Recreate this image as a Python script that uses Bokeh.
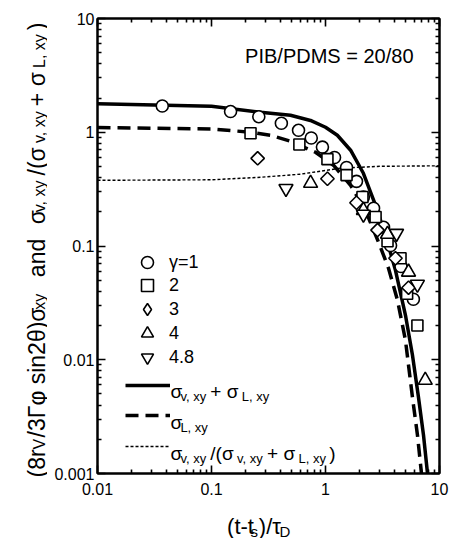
import math
import numpy as np
from bokeh.plotting import figure
from bokeh.layouts import row, column
from bokeh.models import (Range1d, LogAxis, FixedTicker, CustomJSTickFormatter,
                          Label, Legend, LegendItem, ColumnDataSource)
from bokeh.core.properties import value
from bokeh.embed import file_html
from bokeh.resources import INLINE

# ---------------- data ----------------
g1_x = [0.037, 0.147, 0.26, 0.41, 0.58, 0.75, 0.94, 1.20, 1.53, 1.87, 2.15, 2.64, 3.23, 3.72, 4.6, 5.9]
g1_y = [1.70, 1.52, 1.37, 1.20, 1.04, 0.89, 0.74, 0.60, 0.49, 0.37, 0.27, 0.215, 0.146, 0.101, 0.066, 0.034]
g2_x = [0.22, 0.59, 1.04, 1.53, 2.11, 2.75, 3.5, 4.55, 5.2, 6.4]
g2_y = [0.98, 0.78, 0.58, 0.42, 0.27, 0.18, 0.11, 0.078, 0.038, 0.020]
g3_x = [0.254, 1.04, 1.87, 2.86, 4.11, 5.35]
g3_y = [0.59, 0.39, 0.24, 0.138, 0.078, 0.043]
g4_x = [0.74, 2.15, 3.5, 5.35, 7.5]
g4_y = [0.356, 0.206, 0.127, 0.059, 0.0066]
g48_x = [0.45, 2.15, 4.2, 6.4]
g48_y = [0.32, 0.19, 0.129, 0.046]

sum_x = [0.01, 0.1, 0.269, 0.493, 0.738, 1.0, 1.27, 1.66, 2.15, 2.75, 3.36, 4.11, 5.03, 5.79, 6.54, 7.24, 7.85]
sum_y = [1.78, 1.69, 1.50, 1.41, 1.27, 1.106, 0.941, 0.695, 0.436, 0.228, 0.124, 0.0612, 0.0246, 0.0110, 0.00468, 0.00217, 0.001]
L_x = [0.01, 0.1, 0.22, 0.33, 0.493, 0.817, 1.175, 1.66, 2.24, 2.92, 3.57, 4.28, 5.03, 5.79, 6.41, 6.95]
L_y = [1.10, 1.07, 1.0, 0.941, 0.834, 0.667, 0.513, 0.342, 0.206, 0.108, 0.0638, 0.0334, 0.0148, 0.00468, 0.00217, 0.001]
r_x = [0.01, 0.1, 0.269, 0.604, 1.35, 3.03, 10]
r_y = [0.378, 0.382, 0.402, 0.428, 0.483, 0.502, 0.507]

x_major = [0.01, 0.1, 1, 10]
y_major = [0.001, 0.01, 0.1, 1, 10]
gamma_labels = ["γ=1", "2", "3", "4", "4.8"]
annot = "PIB/PDMS = 20/80"

FONT = "Liberation Sans"
LEFT_W = 47          # width of the y-title strip
BOT_H = 30           # height of the x-title strip
P_W, P_H = 460 - LEFT_W, 538 - BOT_H

def minors(majors):
    out = []
    for m in majors[:-1]:
        out += [m * k for k in range(2, 10)]
    return out

p = figure(width=P_W, height=P_H, title=None,
           x_axis_type="log", y_axis_type="log",
           x_range=Range1d(0.01, 10), y_range=Range1d(0.001, 10),
           output_backend="svg", toolbar_location=None,
           min_border_left=50, min_border_right=P_W - 50 - 342, min_border_top=18,
           min_border_bottom=P_H - 18 - 455)
p.xgrid.visible = False
p.ygrid.visible = False
p.outline_line_color = "black"
p.outline_line_width = 2
p.background_fill_color = "white"
p.border_fill_color = "white"

fmt = CustomJSTickFormatter(code="return tick.toString()")

def style(ax, majors, show):
    ax.ticker = FixedTicker(ticks=majors, minor_ticks=minors(majors))
    ax.axis_line_width = 2
    ax.axis_line_color = "black"
    ax.major_tick_in = 8
    ax.major_tick_out = 0
    ax.minor_tick_in = 4
    ax.minor_tick_out = 0
    ax.major_tick_line_width = 1.6
    ax.minor_tick_line_width = 1.6
    if show:
        ax.formatter = fmt
        ax.major_label_text_font = FONT
        ax.major_label_text_font_size = "16px"
        ax.major_label_text_color = "black"
    else:
        ax.major_label_text_font_size = "2px"
        ax.major_label_text_color = None
        ax.major_label_standoff = 0

style(p.xaxis[0], x_major, True)
p.xaxis[0].major_label_standoff = 9
style(p.yaxis[0], y_major, True)
p.yaxis[0].major_label_standoff = 3

ax_top = LogAxis()
style(ax_top, x_major, False)
p.add_layout(ax_top, "above")
ax_right = LogAxis()
style(ax_right, y_major, False)
p.add_layout(ax_right, "right")

# curves
r_sum = p.line(sum_x, sum_y, line_color="black", line_width=3.5)
r_L = p.line(L_x, L_y, line_color="black", line_width=3.5, line_dash="13 7")
r_ratio = p.line(r_x, r_y, line_color="black", line_width=1.4, line_dash="3 2")

mk = dict(fill_color="white", line_color="black", line_width=1.6)
r1 = p.scatter(g1_x, g1_y, marker="circle", size=12, **mk)
r2 = p.scatter(g2_x, g2_y, marker="square", size=11, **mk)
r3 = p.scatter(g3_x, g3_y, marker="square", angle=math.pi / 4, size=9.5, **mk)
r4 = p.scatter(g4_x, g4_y, marker="triangle", size=14, **mk)
r5 = p.scatter(g48_x, g48_y, marker="inverted_triangle", size=14, **mk)
# legend key for the diamonds (the legend does not rotate markers); nothing drawn in the plot
r3_key = p.scatter(x=np.array([np.nan]), y=np.array([np.nan]), marker="diamond", size=12, **mk)

DX, DY = 2, 0   # legend placement correction

def key(renderer, label, cx, cy, gw, gh, standoff, fs):
    leg = Legend(items=[LegendItem(label=label, renderers=[renderer])],
                 location=(cx - gw / 2 + DX, cy - gh / 2 + DY), padding=0, spacing=0,
                 glyph_width=gw, glyph_height=gh, label_height=gh, label_standoff=standoff,
                 label_text_font=FONT, label_text_font_size=fs, label_text_color="black",
                 border_line_color=None, background_fill_alpha=0, margin=0)
    p.add_layout(leg)

# frame-relative key positions (frame bottom-left = 0,0)
key_cy = [211, 188, 164, 140, 116]
for lab, r, cy in zip(gamma_labels, [r1, r2, r3_key, r4, r5], key_cy):
    key(r, lab, 48, cy, 30, 30, 7, "18px")
line_cy = [88, 58, 27]
for r, cy in zip([r_sum, r_L, r_ratio], line_cy):
    key(r, " ", 48, cy, 45, 20, 1, "8px")

# ---------------- rich text helpers ----------------
W = {' ': .278, '(': .333, ')': .333, '/': .278, '+': .584, '=': .584, '-': .333, ',': .278,
     '.': .278, 'a': .556, 'd': .556, 'n': .556, 'i': .222, 's': .5, 'r': .333, 't': .278,
     'v': .5, 'x': .5, 'y': .5, 'L': .556, 'V': .667, 'D': .722, 'Γ': .552, 'φ': .65,
     'θ': .556, 'σ': .52, 'τ': .46, 'γ': .5}

def tw(s, size, is_sub=False):
    w = sum(W.get(c, .556) for c in s) * size
    return w * 1.12 if is_sub else w

def total(parts, main, sub, pad=0):
    return sum(tw(t, sub if s else main, s) + pad for t, s in parts)

def rich_labels(parts, x0, y0, main, sub, shift):
    cur = 0.0
    for txt, is_sub in parts:
        size = sub if is_sub else main
        off = shift if is_sub else 0
        p.add_layout(Label(x=x0 + cur, y=y0 - off, x_units="screen", y_units="screen",
                           text=txt, text_font=FONT, text_font_size=f"{size}px",
                           text_align="left", text_baseline="alphabetic", text_color="black"))
        cur += tw(txt, size, is_sub)

def rich_cols(parts, x0, y0, main, sub, shift, vertical, cols, pad=0):
    cur = 0.0
    for txt, is_sub in parts:
        size = sub if is_sub else main
        off = shift if is_sub else 0
        if vertical:
            cols["x"].append(x0 + off); cols["y"].append(y0 + cur)
        else:
            cols["x"].append(x0 + cur); cols["y"].append(y0 - off)
        cols["text"].append(txt)
        cols["size"].append(f"{size}px")
        cur += tw(txt, size, is_sub) + pad

sxy = [("σ", 0), ("v, xy", 1)]

# legend line texts (inside the frame)
lm, ls = 19, 13
rich_labels(sxy + [(" + σ", 0), ("L, xy", 1)], 73, 82, lm, ls, 5)
rich_labels([("σ", 0), ("L, xy", 1)], 73, 51, lm, ls, 5)
rich_labels(sxy + [(" /(σ", 0), ("v, xy", 1), (" + σ", 0), ("L, xy", 1), (")", 0)], 73, 20, lm, ls, 5)

# annotation
p.add_layout(Label(x=316, y=418, x_units="screen", y_units="screen", text=annot,
                   text_font=FONT, text_font_size="20px", text_align="right",
                   text_baseline="alphabetic", text_color="black"))

# ---------------- title strips ----------------
def strip(w, h):
    f = figure(width=w, height=h, title=None, x_range=Range1d(0, w), y_range=Range1d(0, h),
               output_backend="svg", toolbar_location=None,
               x_axis_location=None, y_axis_location=None, min_border=0)
    f.outline_line_color = None
    f.xgrid.visible = False
    f.ygrid.visible = False
    f.background_fill_color = "white"
    f.border_fill_color = "white"
    return f

ym, ys = 23, 16
part1 = [("(8r", 0), ("V", 1), ("/3Γφ sin2θ)σ", 0), ("xy", 1)]
part2 = sxy + [(" /(σ", 0), ("v, xy", 1), (" + σ", 0), ("L, xy", 1), (")", 0)]
ycols = dict(x=[], y=[], text=[], size=[])
H = 538
y1 = H - 477
rich_cols(part1, 36, y1, ym, ys, 3, True, ycols)
len1 = total(part1, ym, ys)
len2 = total(part2, ym, ys)
y2 = H - 22 - len2
mid = (y1 + len1 + y2) / 2
rich_cols([("and", 0)], 36, mid - tw("and", ym) / 2, ym, ys, 3, True, ycols)
rich_cols(part2, 36, y2, ym, ys, 3, True, ycols)
fy = strip(LEFT_W, H)
fy.text(x="x", y="y", text="text", source=ColumnDataSource(ycols), angle=math.pi / 2,
        text_font=value(FONT), text_font_size="size", text_align="left",
        text_baseline="alphabetic", text_color="black")

xm, xs = 22, 15
xtitle = [("(t-t", 0), ("s", 1), (")/τ", 0), ("D", 1)]
xcols = dict(x=[], y=[], text=[], size=[])
xlen = total(xtitle, xm, xs, pad=1.5)
rich_cols(xtitle, 242 - LEFT_W - xlen / 2, 12, xm, xs, 5, False, xcols, pad=1.5)
fx = strip(P_W, BOT_H)
fx.text(x="x", y="y", text="text", source=ColumnDataSource(xcols),
        text_font=value(FONT), text_font_size="size", text_align="left",
        text_baseline="alphabetic", text_color="black")

layout = row(fy, column(p, fx, spacing=0), spacing=0)
open("out.html", "w").write(file_html(layout, INLINE))
